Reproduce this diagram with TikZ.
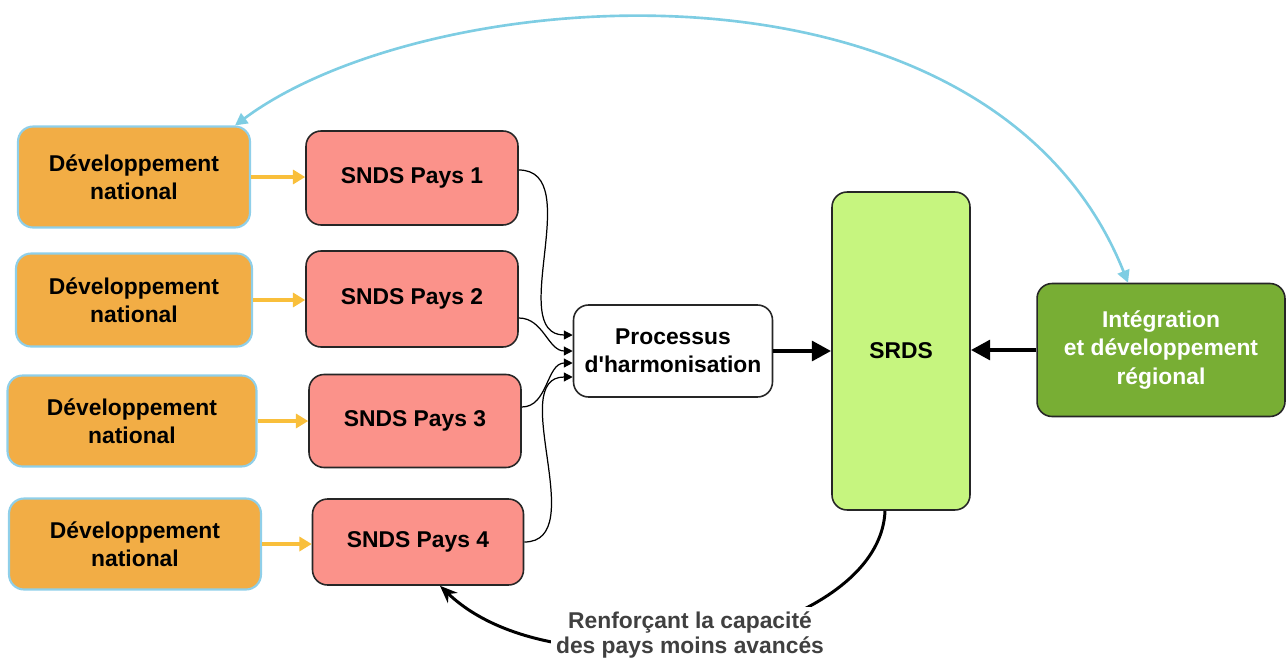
\documentclass[tikz,border=0pt]{standalone}
\usepackage{fontspec}
\setmainfont{Liberation Sans}
\usetikzlibrary{arrows.meta}

\definecolor{natfill}{HTML}{F2AD45}
\definecolor{natline}{HTML}{8FCFE9}
\definecolor{sndsfill}{HTML}{FB928A}
\definecolor{srdsfill}{HTML}{C6F57F}
\definecolor{integfill}{HTML}{78AE34}
\definecolor{feedcol}{HTML}{F9BF3B}
\definecolor{linkcol}{HTML}{7ECDE3}
\definecolor{capcol}{HTML}{404040}

\tikzset{
  box/.style={draw, rounded corners=0.3cm, align=center, inner sep=2pt,
    font=\bfseries\fontsize{13}{16}\selectfont},
  natbox/.style={box, fill=natfill, draw=natline, line width=1.2pt},
  sndsbox/.style={box, fill=sndsfill, draw=black!85, line width=0.9pt},
  harmobox/.style={box, fill=white, draw=black!85, line width=0.9pt},
  srdsbox/.style={box, fill=srdsfill, draw=black!85, line width=0.9pt},
  integbox/.style={box, fill=integfill, draw=black!85, line width=0.9pt, text=white},
  feed/.style={-{Triangle[length=7pt, width=8pt]}, feedcol, line width=2.2pt},
  merge/.style={-{Triangle[length=5pt, width=5pt]}, black, line width=0.7pt},
  heavy/.style={-{Triangle[length=11pt, width=11pt]}, black, line width=2.8pt},
  capline/.style={-{Stealth[length=10pt, width=8pt]}, black, line width=1.7pt},
  link/.style={{Triangle[length=7pt, width=7pt]}-{Triangle[length=7pt, width=7pt]}, linkcol, line width=1.5pt}
}

\begin{document}
\begin{tikzpicture}[x=0.02cm, y=-0.02cm]
\useasboundingbox (0,0) rectangle (1287,659);

% national development
\node [natbox, minimum width=4.64cm, minimum height=2.02cm] (nat1) at (134,177) {Développement\\national};
\node [natbox, minimum width=4.72cm, minimum height=1.86cm] (nat2) at (134,300) {Développement\\national};
\node [natbox, minimum width=4.98cm, minimum height=1.82cm] (nat3) at (132,421) {Développement\\national};
\node [natbox, minimum width=5.04cm, minimum height=1.82cm] (nat4) at (135,544) {Développement\\national};

% country strategies
\node [sndsbox, minimum width=4.24cm, minimum height=1.88cm] (snds1) at (412,178) {SNDS Pays 1};
\node [sndsbox, minimum width=4.24cm, minimum height=1.92cm] (snds2) at (412,299) {SNDS Pays 2};
\node [sndsbox, minimum width=4.24cm, minimum height=1.86cm] (snds3) at (415,421) {SNDS Pays 3};
\node [sndsbox, minimum width=4.22cm, minimum height=1.72cm] (snds4) at (418,542) {SNDS Pays 4};

\node [harmobox, minimum width=3.98cm, minimum height=1.84cm] (harmo) at (673,351) {Processus\\d\textquotesingle harmonisation};
\node [srdsbox, minimum width=2.76cm, minimum height=6.36cm] (srds) at (901,351) {SRDS};
\node [integbox, minimum width=4.96cm, minimum height=2.66cm] (integ) at (1161,350) {Intégration\\et développement\\régional};

\draw [feed] (nat1.east) -- (nat1.east -| snds1.west);
\draw [feed] (nat2.east) -- (nat2.east -| snds2.west);
\draw [feed] (nat3.east) -- (nat3.east -| snds3.west);
\draw [feed] (nat4.east) -- (nat4.east -| snds4.west);

\draw [merge] ([yshift=0.16cm]snds1.east) to [out=0, in=180] ([yshift=0.32cm]harmo.west);
\draw [merge] ([yshift=-0.38cm]snds2.east) to [out=0, in=180] (harmo.west);
\draw [merge] ([yshift=0.28cm]snds3.east) to [out=0, in=180] ([yshift=-0.24cm]harmo.west);
\draw [merge] (snds4.east) to [out=0, in=180] ([yshift=-0.52cm]harmo.west);

\draw [heavy] (harmo) -- (srds);
\draw [heavy] (integ.west) -- (integ.west -| srds.east);

\draw [capline] ([xshift=-0.32cm]srds.south) .. controls +(-5,130) and +(120,115) .. ([xshift=0.44cm]snds4.south);
\node [fill=white, align=center, inner sep=3pt, text=capcol, font=\bfseries\fontsize{13}{14}\selectfont] (capa) at (690,635) {Renforçant la capacité\\des pays moins avancés};

\draw [link] ([xshift=-0.66cm]integ.north) .. controls +(-138,-345) and +(195,-145) .. ([xshift=2.02cm]nat1.north);
\end{tikzpicture}
\end{document}
